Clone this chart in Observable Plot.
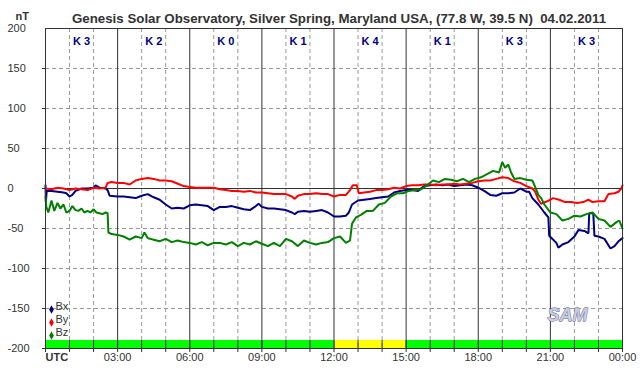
<!DOCTYPE html>
<html>
<head>
<meta charset="utf-8">
<script src="https://cdn.jsdelivr.net/npm/d3@7"></script>
<script src="https://cdn.jsdelivr.net/npm/@observablehq/plot@0.6"></script>
<style>
  html, body { margin: 0; padding: 0; background: #fff; }
  svg { display: block; }
</style>
</head>
<body>
<div id="chart"></div>
<script>
// ---- Data (time in minutes since 00:00 UTC, value in nT) ----
const titleText = "Genesis Solar Observatory, Silver Spring, Maryland USA, (77.8 W, 39.5 N)  04.02.2011";
const unitLabel = "nT";
const seriesNames = ["Bx", "By", "Bz"];
const seriesColors = ["#000080", "#ff0000", "#008000"];
const kIndex = [3, 2, 0, 1, 4, 1, 3, 3];
const yTicks = [200, 150, 100, 50, 0, -50, -100, -150, -200];
const xTickMinutes = [180, 360, 540, 720, 900, 1080, 1260, 1440];
const xTickLabels = ["03:00", "06:00", "09:00", "12:00", "15:00", "18:00", "21:00", "00:00"];

const bx = [[0,4],[1,-17],[3,-3],[15,-3],[30,-4],[45,-5],[52,-6],[60,-10],[67,-8],[75,-3],[90,0],[105,0],[120,1],[125,4],[135,1],[150,0],[155,-2],[160,-9],[180,-10],[195,-10],[210,-11],[225,-12],[240,-9],[255,-7],[270,-11],[285,-14],[300,-20],[315,-25],[330,-24],[345,-25],[360,-21],[375,-20],[390,-21],[405,-22],[420,-27],[435,-23],[450,-23],[465,-22],[480,-24],[495,-26],[510,-27],[525,-22],[532,-19],[540,-23],[555,-25],[570,-25],[585,-26],[600,-27],[615,-30],[622,-32],[630,-29],[645,-28],[660,-29],[675,-28],[690,-27],[705,-30],[720,-35],[735,-35],[750,-34],[757,-30],[765,-20],[780,-15],[795,-14],[810,-13],[825,-12],[840,-11],[855,-10],[870,-5],[885,-3],[900,-2],[915,-2],[930,-3],[945,3],[960,4],[975,5],[990,4],[1005,5],[1020,3],[1035,4],[1050,5],[1065,4],[1080,1],[1095,-3],[1110,-8],[1125,-9],[1140,-6],[1155,-6],[1170,-5],[1185,0],[1200,-4],[1207,-4],[1215,-12],[1230,-20],[1245,-30],[1255,-36],[1257,-59],[1275,-68],[1280,-74],[1290,-70],[1305,-67],[1320,-60],[1330,-52],[1345,-53],[1355,-56],[1357,-31],[1367,-31],[1370,-59],[1380,-60],[1395,-63],[1410,-75],[1420,-72],[1430,-66],[1440,-62]];

const by = [[0,0],[15,-1],[30,1],[45,0],[60,-2],[75,0],[90,-1],[105,-2],[120,1],[135,0],[150,1],[155,7],[165,8],[180,7],[195,7],[210,5],[225,10],[240,12],[255,13],[270,12],[285,10],[300,10],[315,9],[330,6],[345,3],[360,2],[375,1],[390,1],[405,1],[420,1],[435,-1],[450,-2],[465,-3],[480,-3],[495,-4],[510,-3],[525,-5],[540,-5],[555,-6],[570,-7],[585,-7],[600,-7],[615,-10],[622,-13],[630,-9],[645,-7],[660,-7],[675,-6],[690,-7],[705,-7],[720,-10],[735,-8],[750,-8],[760,-2],[767,4],[777,4],[782,-6],[795,-5],[810,-4],[825,-2],[840,-2],[855,-1],[870,1],[885,0],[900,3],[915,4],[930,4],[945,5],[960,5],[975,4],[990,5],[1005,5],[1020,6],[1035,5],[1050,6],[1065,7],[1080,9],[1095,10],[1110,10],[1125,12],[1140,14],[1155,13],[1170,9],[1185,7],[1200,3],[1215,0],[1222,-4],[1230,-14],[1237,-19],[1252,-16],[1267,-12],[1282,-14],[1297,-17],[1312,-17],[1327,-18],[1342,-17],[1355,-14],[1365,-17],[1380,-16],[1395,-16],[1405,-7],[1420,-6],[1430,-4],[1437,0],[1440,4]];

const bz = [[0,-10],[2,-23],[7,-30],[15,-15],[22,-28],[30,-18],[37,-25],[45,-20],[52,-30],[60,-28],[67,-22],[75,-27],[82,-28],[90,-25],[97,-30],[105,-28],[112,-30],[120,-26],[127,-30],[135,-31],[142,-32],[150,-30],[155,-31],[157,-55],[165,-57],[180,-58],[195,-60],[210,-64],[225,-60],[240,-62],[247,-55],[255,-62],[270,-64],[285,-66],[300,-63],[315,-67],[330,-65],[345,-67],[360,-68],[375,-70],[390,-67],[405,-71],[420,-68],[435,-68],[450,-70],[465,-67],[480,-72],[495,-68],[510,-70],[525,-66],[540,-69],[555,-72],[570,-68],[585,-72],[600,-63],[615,-66],[630,-72],[645,-65],[660,-68],[675,-70],[690,-68],[705,-67],[720,-62],[735,-60],[750,-68],[760,-65],[765,-44],[775,-36],[787,-33],[802,-28],[817,-28],[832,-20],[847,-18],[862,-10],[877,-6],[892,-6],[907,-3],[922,-2],[937,-1],[952,4],[967,10],[982,8],[997,12],[1012,11],[1027,9],[1042,12],[1057,8],[1072,12],[1087,14],[1102,18],[1117,22],[1132,20],[1140,33],[1147,26],[1155,30],[1162,20],[1170,12],[1185,13],[1200,11],[1215,10],[1222,2],[1230,-8],[1237,-12],[1245,-20],[1260,-30],[1275,-32],[1290,-40],[1305,-38],[1320,-34],[1335,-35],[1350,-32],[1365,-30],[1380,-38],[1395,-40],[1410,-48],[1425,-42],[1432,-40],[1440,-50]];

// ---- Build tables ----
const seriesData = [bx, by, bz];
const rows = seriesData.flatMap((s, k) => s.map(([t, v]) => ({t, v, series: seriesNames[k]})));
const hours = d3.range(0, 1441, 60);
const dashedHours = hours.filter(m => m % 180 !== 0);
const solidHours = hours.filter(m => m % 180 === 0 && m > 0 && m < 1440);
const gridY = yTicks.filter(v => v !== 0 && Math.abs(v) !== 200);
const kBlocks = kIndex.map((k, i) => ({k, x1: i * 180, x2: (i + 1) * 180}));

const dark = "#333";
const font = "'Liberation Sans', Arial, sans-serif";

const legendMarks = seriesNames.flatMap((name, i) => [
  Plot.dot([name], {frameAnchor: "bottom-left", dx: 6, dy: -39 + i * 13, r: 1.6, symbol: "diamond", fill: seriesColors[i], stroke: seriesColors[i]}),
  Plot.text([name], {frameAnchor: "bottom-left", dx: 10, dy: -39 + i * 13, text: d => d, textAnchor: "start", fill: dark, fontSize: 11})
]);

const chart = Plot.plot({
  width: 642,
  height: 376,
  marginLeft: 45,
  marginRight: 20,
  marginTop: 28,
  marginBottom: 28,
  style: {fontFamily: font, fontSize: "11px", background: "#fff", color: dark, overflow: "visible"},
  x: {domain: [0, 1440], axis: null, label: null},
  y: {domain: [-200, 200], axis: null, label: null},
  color: {domain: seriesNames, range: seriesColors},
  marks: [
    // status bar
    Plot.rect(kBlocks, {x1: "x1", x2: "x2", y1: -200, y2: -190, fill: d => d.k >= 4 ? "#ffff00" : "#00ff00"}),
    // grid
    Plot.ruleY(gridY, {stroke: "#999", strokeDasharray: "4,3", strokeWidth: 1}),
    Plot.ruleX(dashedHours, {stroke: "#999", strokeDasharray: "4,3", strokeWidth: 1}),
    Plot.ruleX(solidHours, {stroke: dark, strokeWidth: 1}),
    Plot.ruleX(hours, {y1: -200, y2: -190, stroke: dark, strokeWidth: 1}),
    Plot.ruleY([0], {stroke: dark, strokeWidth: 1}),
    // data lines
    Plot.line(rows, {x: "t", y: "v", z: "series", stroke: "series", strokeWidth: 2, strokeLinejoin: "miter", curve: "linear"}),
    Plot.frame({stroke: dark, strokeWidth: 1}),
    // axes
    Plot.axisX({ticks: hours, tickSize: 4, tickFormat: () => "", stroke: dark, label: null}),
    Plot.text(xTickMinutes, {x: d => d, text: (d, i) => xTickLabels[i], frameAnchor: "bottom", dy: 12, fill: dark, fontSize: 11}),
    Plot.text(["UTC"], {frameAnchor: "bottom-left", dy: 12, textAnchor: "start", fontWeight: "bold", fill: dark, fontSize: 11}),
    Plot.axisY({ticks: yTicks.filter(v => v !== 200), tickSize: 3, tickFormat: () => "", stroke: dark, label: null}),
    Plot.text(yTicks, {y: d => d, text: d => String(d), frameAnchor: "left", dx: -38, textAnchor: "start", fill: dark, fontSize: 11}),
    // K index labels
    Plot.text(kBlocks, {x: d => (d.x1 + d.x2) / 2, text: d => "K " + d.k, frameAnchor: "top", dy: 9, fill: "#000080", fontWeight: "bold", fontSize: 11}),
    // title + unit
    Plot.text([titleText], {frameAnchor: "top", dx: 5, dy: -15, fontWeight: "bold", fontSize: 13.3, fill: dark}),
    Plot.text([unitLabel], {frameAnchor: "top-left", dx: -30, dy: -16, textAnchor: "start", fontWeight: "bold", fontSize: 11, fill: dark}),
    // legend
    ...legendMarks,
    // logo
    Plot.text(["SAM"], {frameAnchor: "bottom-right", dx: -35, dy: -28, fontStyle: "italic", fontWeight: "bold", fontSize: 18, fill: "#c8cce0", stroke: "#4a5080", strokeWidth: 0.8, letterSpacing: "1px"})
  ]
});
document.getElementById("chart").appendChild(chart);
</script>
</body>
</html>
